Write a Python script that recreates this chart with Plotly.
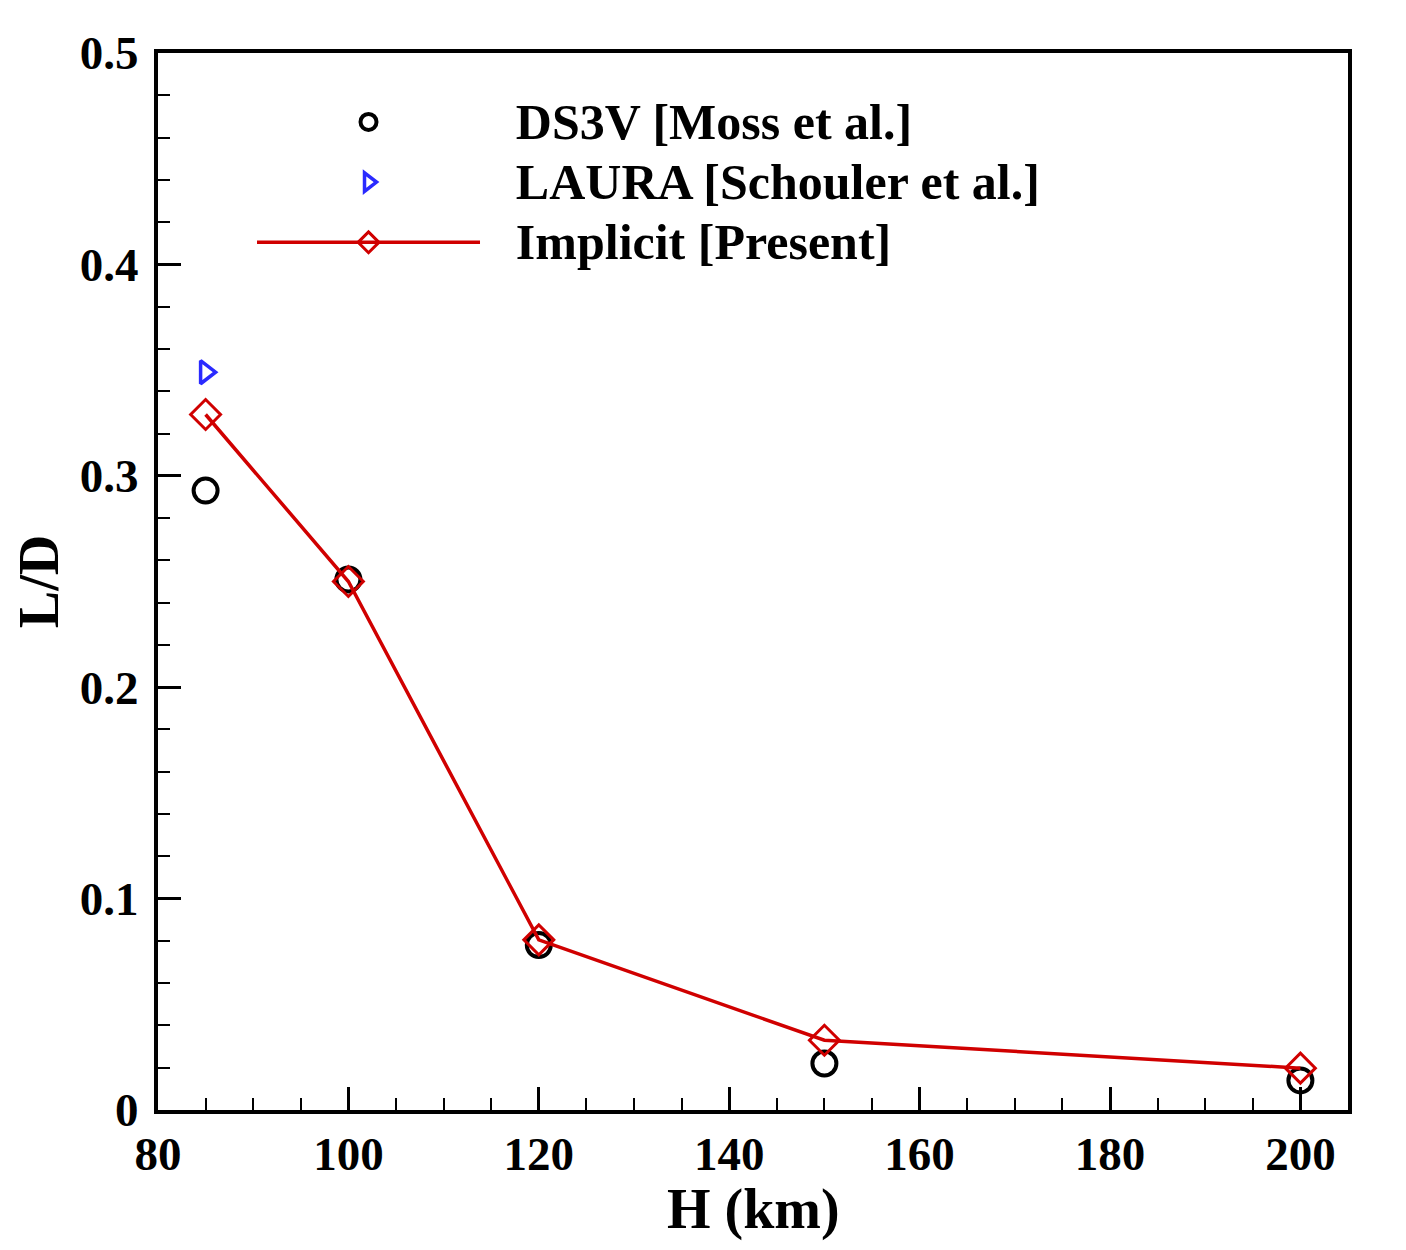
import plotly.graph_objects as go

# Data
ds3v_h = [85, 100, 120, 150, 200]
ds3v_ld = [0.293, 0.251, 0.078, 0.022, 0.014]

laura_h = [85]
laura_ld = [0.349]

impl_h = [85, 100, 120, 150, 200]
impl_ld = [0.329, 0.250, 0.0805, 0.033, 0.0198]

x_ticks = [80, 100, 120, 140, 160, 180, 200]
y_ticks = [0, 0.1, 0.2, 0.3, 0.4, 0.5]
y_ticktext = ["0", "0.1", "0.2", "0.3", "0.4", "0.5"]

FONT = "Liberation Serif"
GAP = "\u2002\u2009"


def lname(s):
    return GAP + "<span style='font-size:50px'><b>" + s + "</b></span>"


fig = go.Figure()
fig.add_trace(go.Scatter(
    x=ds3v_h, y=ds3v_ld, mode="markers", name=lname("DS3V [Moss et al.]"),
    marker=dict(symbol="circle-open", size=24, color="black", line=dict(width=4, color="black")),
))
fig.add_trace(go.Scatter(
    x=laura_h, y=laura_ld, mode="markers", name=lname("LAURA [Schouler et al.]"),
    marker=dict(symbol="triangle-right-open", size=20, color="#2a2aff", line=dict(width=3.5, color="#2a2aff")),
))
fig.add_trace(go.Scatter(
    x=impl_h, y=impl_ld, mode="lines+markers", name=lname("Implicit [Present]"),
    line=dict(color="#d00000", width=3.5),
    marker=dict(symbol="diamond-open", size=23, color="#d00000", line=dict(width=3, color="#d00000")),
))

axis_common = dict(
    showgrid=False, zeroline=False, showline=True, linecolor="black", linewidth=4,
    mirror=True, ticks="inside", tickcolor="black", tickwidth=3, ticklen=23,
    tickfont=dict(family=FONT, size=47, color="black", weight="bold"),
)

fig.update_xaxes(
    range=[80, 205], tickmode="array", tickvals=x_ticks,
    minor=dict(ticks="inside", dtick=5, tick0=80, ticklen=12, tickwidth=1.5, tickcolor="black"),
    **axis_common,
)
fig.update_yaxes(
    range=[0, 0.5], tickmode="array", tickvals=y_ticks, ticktext=y_ticktext,
    ticklabelstandoff=6,
    minor=dict(ticks="inside", dtick=0.02, tick0=0, ticklen=12, tickwidth=1.5, tickcolor="black"),
    title=dict(text="<b>L/D</b>", font=dict(family=FONT, size=56, color="black"), standoff=10),
    **axis_common,
)

fig.add_annotation(
    text="<b>H (km)</b>", xref="paper", yref="paper", x=0.5, y=0,
    xanchor="center", yanchor="top", yshift=-66, showarrow=False,
    font=dict(family=FONT, size=56, color="black"),
)

fig.update_layout(
    width=1406, height=1250,
    margin=dict(l=150, r=66, t=45, b=148),
    plot_bgcolor="white", paper_bgcolor="white",
    legend=dict(
        x=0.079, y=0.968, xanchor="left", yanchor="top",
        font=dict(family=FONT, size=44, color="black"),
        bgcolor="rgba(0,0,0,0)", tracegroupgap=0, itemwidth=223,
    ),
)

fig.write_html("out.html")
